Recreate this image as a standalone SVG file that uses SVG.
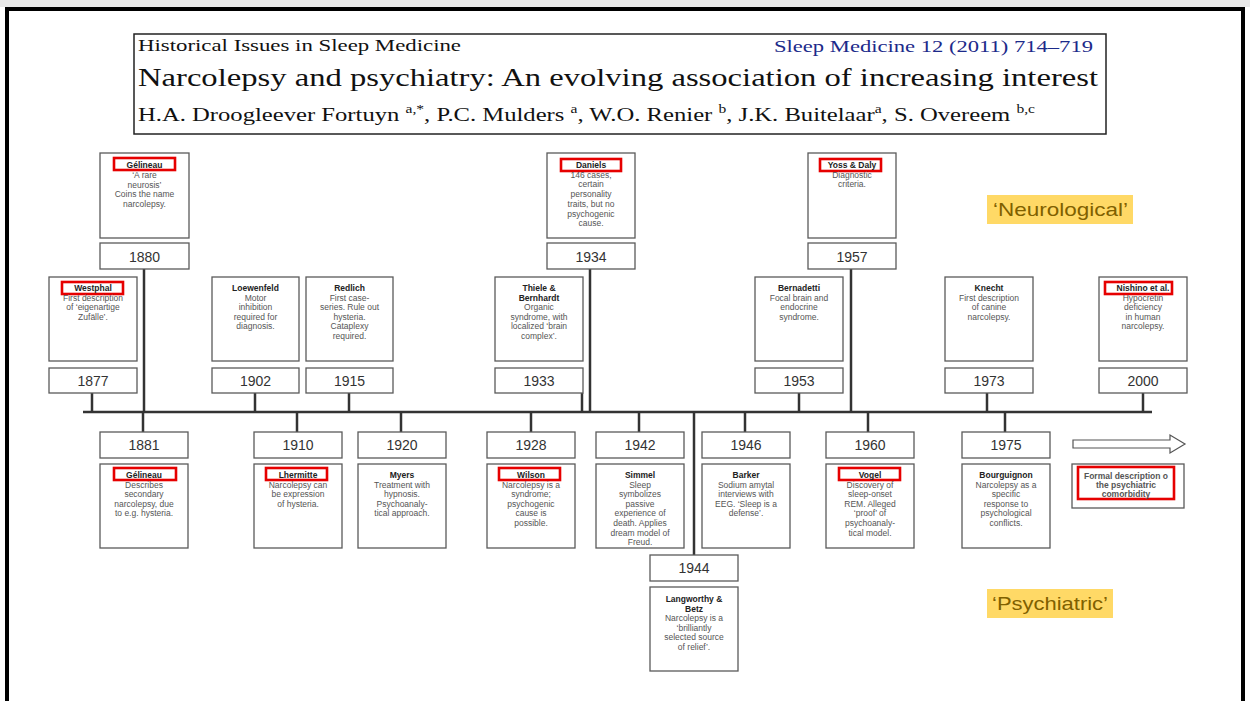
<svg xmlns="http://www.w3.org/2000/svg" width="1250" height="701" viewBox="0 0 1250 701">
<style>
.box{fill:#fff;stroke:#5a5a5a;stroke-width:1.3}
.yr{font-family:"Liberation Sans",Arial,sans-serif;font-size:14px;fill:#333;text-anchor:middle}
.d{font-family:"Liberation Sans",Arial,sans-serif;font-size:8.5px;fill:#555;text-anchor:middle}
.n{font-weight:bold;fill:#222}
.hl{fill:none;stroke:#e60000;stroke-width:2.6}
.ln{stroke:#333;stroke-width:2.5;fill:none}
.lab{fill:#ffd966}
.labt{font-family:"Liberation Sans",Arial,sans-serif;font-size:19px;fill:#7f6000}
.serif{font-family:"Liberation Serif","Times New Roman",serif;fill:#111}
</style>
<rect x="0" y="0" width="1250" height="701" fill="#fff"/>
<rect x="0" y="0" width="1250" height="7" fill="#e8e8e8"/>
<rect x="7" y="9" width="1236" height="730" fill="none" stroke="#000" stroke-width="4"/>

<g id="header">
<rect x="134" y="34" width="972" height="100" fill="#fff" stroke="#222" stroke-width="1.5"/>
<text class="serif" x="138" y="51" font-size="16" textLength="323" lengthAdjust="spacingAndGlyphs">Historical Issues in Sleep Medicine</text>
<text x="774" y="52" font-family="Liberation Serif,serif" font-size="17" fill="#1c2a8a" textLength="319" lengthAdjust="spacingAndGlyphs">Sleep Medicine 12 (2011) 714–719</text>
<text class="serif" x="138" y="86" font-size="25" textLength="960" lengthAdjust="spacingAndGlyphs">Narcolepsy and psychiatry: An evolving association of increasing interest</text>
<text class="serif" x="138" y="121" font-size="19" textLength="897" lengthAdjust="spacingAndGlyphs">H.A. Droogleever Fortuyn <tspan font-size="12" dy="-8">a,*</tspan><tspan dy="8">, P.C. Mulders </tspan><tspan font-size="12" dy="-8">a</tspan><tspan dy="8">, W.O. Renier </tspan><tspan font-size="12" dy="-8">b</tspan><tspan dy="8">, J.K. Buitelaar</tspan><tspan font-size="12" dy="-8">a</tspan><tspan dy="8">, S. Overeem </tspan><tspan font-size="12" dy="-8">b,c</tspan></text>
</g>

<g id="connectors">
<line class="ln" x1="83" y1="412" x2="1152" y2="412"/>
<line class="ln" x1="92" y1="393" x2="92" y2="412"/>
<line class="ln" x1="144" y1="269" x2="144" y2="412"/>
<line class="ln" x1="255" y1="393" x2="255" y2="412"/>
<line class="ln" x1="349" y1="393" x2="349" y2="412"/>
<line class="ln" x1="582" y1="393" x2="582" y2="412"/>
<line class="ln" x1="590" y1="269" x2="590" y2="412"/>
<line class="ln" x1="799" y1="393" x2="799" y2="412"/>
<line class="ln" x1="851" y1="269" x2="851" y2="412"/>
<line class="ln" x1="987" y1="393" x2="987" y2="412"/>
<line class="ln" x1="1143" y1="393" x2="1143" y2="412"/>
<line class="ln" x1="143" y1="412" x2="143" y2="432"/>
<line class="ln" x1="297" y1="412" x2="297" y2="432"/>
<line class="ln" x1="401" y1="412" x2="401" y2="432"/>
<line class="ln" x1="531" y1="412" x2="531" y2="432"/>
<line class="ln" x1="639" y1="412" x2="639" y2="432"/>
<line class="ln" x1="694" y1="412" x2="694" y2="555"/>
<line class="ln" x1="745" y1="412" x2="745" y2="432"/>
<line class="ln" x1="868" y1="412" x2="868" y2="432"/>
<line class="ln" x1="1005" y1="412" x2="1005" y2="432"/>
</g>

<g id="n1880">
<rect class="box" x="100" y="153" width="89" height="85"/>
<rect class="hl" x="114" y="158" width="61" height="12"/>
<text class="d"><tspan class="n" x="144.5" y="168">Gélineau</tspan><tspan x="144.5" y="178">‘A rare</tspan><tspan x="144.5" y="187.5">neurosis’</tspan><tspan x="144.5" y="197">Coins the name</tspan><tspan x="144.5" y="206.5">narcolepsy.</tspan></text>
<rect class="box" x="100" y="243" width="89" height="26"/>
<text class="yr" x="144.5" y="262">1880</text>
</g>

<g id="n1934">
<rect class="box" x="547" y="153" width="88" height="85"/>
<rect class="hl" x="561" y="159" width="60" height="12"/>
<text class="d"><tspan class="n" x="591" y="168">Daniels</tspan><tspan x="591" y="177.7">146 cases,</tspan><tspan x="591" y="187.4">certain</tspan><tspan x="591" y="197.1">personality</tspan><tspan x="591" y="206.8">traits, but no</tspan><tspan x="591" y="216.5">psychogenic</tspan><tspan x="591" y="226.2">cause.</tspan></text>
<rect class="box" x="547" y="243" width="88" height="26"/>
<text class="yr" x="591" y="262">1934</text>
</g>

<g id="n1957">
<rect class="box" x="808" y="153" width="88" height="85"/>
<rect class="hl" x="820" y="159" width="61" height="12"/>
<text class="d"><tspan class="n" x="852" y="168">Yoss &amp; Daly</tspan><tspan x="852" y="177.7">Diagnostic</tspan><tspan x="852" y="187.4">criteria.</tspan></text>
<rect class="box" x="808" y="243" width="88" height="26"/>
<text class="yr" x="852" y="262">1957</text>
</g>

<g id="n1877">
<rect class="box" x="49" y="277" width="88" height="84"/>
<rect class="hl" x="62" y="282" width="61" height="12"/>
<text class="d"><tspan class="n" x="93" y="291">Westphal</tspan><tspan x="93" y="300.5">First description</tspan><tspan x="93" y="310">of ‘eigenartige</tspan><tspan x="93" y="319.5">Zufälle’.</tspan></text>
<rect class="box" x="49" y="368" width="88" height="25"/>
<text class="yr" x="93" y="386">1877</text>
</g>

<g id="n1902">
<rect class="box" x="212" y="277" width="87" height="84"/>
<text class="d"><tspan class="n" x="255.5" y="291">Loewenfeld</tspan><tspan x="255.5" y="300.5">Motor</tspan><tspan x="255.5" y="310">inhibition</tspan><tspan x="255.5" y="319.5">required for</tspan><tspan x="255.5" y="329">diagnosis.</tspan></text>
<rect class="box" x="212" y="368" width="87" height="25"/>
<text class="yr" x="255.5" y="386">1902</text>
</g>

<g id="n1915">
<rect class="box" x="306" y="277" width="87" height="84"/>
<text class="d"><tspan class="n" x="349.5" y="291">Redlich</tspan><tspan x="349.5" y="300.5">First case-</tspan><tspan x="349.5" y="310">series. Rule out</tspan><tspan x="349.5" y="319.5">hysteria.</tspan><tspan x="349.5" y="329">Cataplexy</tspan><tspan x="349.5" y="338.5">required.</tspan></text>
<rect class="box" x="306" y="368" width="87" height="25"/>
<text class="yr" x="349.5" y="386">1915</text>
</g>

<g id="n1933">
<rect class="box" x="495" y="277" width="88" height="84"/>
<text class="d"><tspan class="n" x="539" y="291">Thiele &amp;</tspan><tspan class="n" x="539" y="300.5">Bernhardt</tspan><tspan x="539" y="310">Organic</tspan><tspan x="539" y="319.5">syndrome, with</tspan><tspan x="539" y="329">localized ‘brain</tspan><tspan x="539" y="338.5">complex’.</tspan></text>
<rect class="box" x="495" y="368" width="88" height="25"/>
<text class="yr" x="539" y="386">1933</text>
</g>

<g id="n1953">
<rect class="box" x="755" y="277" width="88" height="84"/>
<text class="d"><tspan class="n" x="799" y="291">Bernadetti</tspan><tspan x="799" y="300.5">Focal brain  and</tspan><tspan x="799" y="310">endocrine</tspan><tspan x="799" y="319.5">syndrome.</tspan></text>
<rect class="box" x="755" y="368" width="88" height="25"/>
<text class="yr" x="799" y="386">1953</text>
</g>

<g id="n1973">
<rect class="box" x="945" y="277" width="88" height="84"/>
<text class="d"><tspan class="n" x="989" y="291">Knecht</tspan><tspan x="989" y="300.5">First description</tspan><tspan x="989" y="310">of canine</tspan><tspan x="989" y="319.5">narcolepsy.</tspan></text>
<rect class="box" x="945" y="368" width="88" height="25"/>
<text class="yr" x="989" y="386">1973</text>
</g>

<g id="n2000">
<rect class="box" x="1099" y="277" width="88" height="84"/>
<rect class="hl" x="1105" y="282" width="67" height="12"/>
<text class="d"><tspan class="n" x="1143" y="291">Nishino et al.</tspan><tspan x="1143" y="300.5">Hypocretin</tspan><tspan x="1143" y="310">deficiency</tspan><tspan x="1143" y="319.5">in human</tspan><tspan x="1143" y="329">narcolepsy.</tspan></text>
<rect class="box" x="1099" y="368" width="88" height="25"/>
<text class="yr" x="1143" y="386">2000</text>
</g>

<g id="n1881">
<rect class="box" x="100" y="432" width="88" height="26"/>
<text class="yr" x="144" y="450">1881</text>
<rect class="box" x="100" y="464" width="88" height="84"/>
<rect class="hl" x="114" y="468" width="62" height="12"/>
<text class="d"><tspan class="n" x="144" y="478">Gélineau</tspan><tspan x="144" y="487.6">Describes</tspan><tspan x="144" y="497.2">secondary</tspan><tspan x="144" y="506.8">narcolepsy, due</tspan><tspan x="144" y="516.4">to e.g. hysteria.</tspan></text>
</g>

<g id="n1910">
<rect class="box" x="254" y="432" width="88" height="26"/>
<text class="yr" x="298" y="450">1910</text>
<rect class="box" x="254" y="464" width="88" height="84"/>
<rect class="hl" x="266" y="468" width="61" height="12"/>
<text class="d"><tspan class="n" x="298" y="478">Lhermitte</tspan><tspan x="298" y="487.6">Narcolepsy can</tspan><tspan x="298" y="497.2">be expression</tspan><tspan x="298" y="506.8">of hysteria.</tspan></text>
</g>

<g id="n1920">
<rect class="box" x="358" y="432" width="88" height="26"/>
<text class="yr" x="402" y="450">1920</text>
<rect class="box" x="358" y="464" width="88" height="84"/>
<text class="d"><tspan class="n" x="402" y="478">Myers</tspan><tspan x="402" y="487.6">Treatment with</tspan><tspan x="402" y="497.2">hypnosis.</tspan><tspan x="402" y="506.8">Psychoanaly-</tspan><tspan x="402" y="516.4">tical approach.</tspan></text>
</g>

<g id="n1928">
<rect class="box" x="487" y="432" width="88" height="26"/>
<text class="yr" x="531" y="450">1928</text>
<rect class="box" x="487" y="464" width="88" height="84"/>
<rect class="hl" x="499" y="468" width="61" height="12"/>
<text class="d"><tspan class="n" x="531" y="478">Wilson</tspan><tspan x="531" y="487.6">Narcolepsy is a</tspan><tspan x="531" y="497.2">syndrome;</tspan><tspan x="531" y="506.8">psychogenic</tspan><tspan x="531" y="516.4">cause is</tspan><tspan x="531" y="526">possible.</tspan></text>
</g>

<g id="n1942">
<rect class="box" x="596" y="432" width="88" height="26"/>
<text class="yr" x="640" y="450">1942</text>
<rect class="box" x="596" y="464" width="88" height="84"/>
<text class="d"><tspan class="n" x="640" y="478">Simmel</tspan><tspan x="640" y="487.6">Sleep</tspan><tspan x="640" y="497.2">symbolizes</tspan><tspan x="640" y="506.8">passive</tspan><tspan x="640" y="516.4">experience of</tspan><tspan x="640" y="526">death. Applies</tspan><tspan x="640" y="535.6">dream model of</tspan><tspan x="640" y="545.2">Freud.</tspan></text>
</g>

<g id="n1944">
<rect class="box" x="650" y="555" width="88" height="26"/>
<text class="yr" x="694" y="573">1944</text>
<rect class="box" x="650" y="587" width="88" height="84"/>
<text class="d"><tspan class="n" x="694" y="602">Langworthy &amp;</tspan><tspan class="n" x="694" y="611.6">Betz</tspan><tspan x="694" y="621.2">Narcolepsy is a</tspan><tspan x="694" y="630.8">‘brilliantly</tspan><tspan x="694" y="640.4">selected source</tspan><tspan x="694" y="650">of relief’.</tspan></text>
</g>

<g id="n1946">
<rect class="box" x="702" y="432" width="88" height="26"/>
<text class="yr" x="746" y="450">1946</text>
<rect class="box" x="702" y="464" width="88" height="84"/>
<text class="d"><tspan class="n" x="746" y="478">Barker</tspan><tspan x="746" y="487.6">Sodium amytal</tspan><tspan x="746" y="497.2">interviews with</tspan><tspan x="746" y="506.8">EEG. ‘Sleep is a</tspan><tspan x="746" y="516.4">defense’.</tspan></text>
</g>

<g id="n1960">
<rect class="box" x="826" y="432" width="88" height="26"/>
<text class="yr" x="870" y="450">1960</text>
<rect class="box" x="826" y="464" width="88" height="84"/>
<rect class="hl" x="839" y="468" width="61" height="12"/>
<text class="d"><tspan class="n" x="870" y="478">Vogel</tspan><tspan x="870" y="487.6">Discovery of</tspan><tspan x="870" y="497.2">sleep-onset</tspan><tspan x="870" y="506.8">REM. Alleged</tspan><tspan x="870" y="516.4">‘proof’ of</tspan><tspan x="870" y="526">psychoanaly-</tspan><tspan x="870" y="535.6">tical model.</tspan></text>
</g>

<g id="n1975">
<rect class="box" x="962" y="432" width="88" height="26"/>
<text class="yr" x="1006" y="450">1975</text>
<rect class="box" x="962" y="464" width="88" height="84"/>
<text class="d"><tspan class="n" x="1006" y="478">Bourguignon</tspan><tspan x="1006" y="487.6">Narcolepsy as a</tspan><tspan x="1006" y="497.2">specific</tspan><tspan x="1006" y="506.8">response to</tspan><tspan x="1006" y="516.4">psychological</tspan><tspan x="1006" y="526">conflicts.</tspan></text>
</g>

<g id="future">
<polygon points="1073,440 1170,440 1170,435 1185,444 1170,453 1170,448 1073,448" fill="#fff" stroke="#555" stroke-width="1.2"/>
<rect class="box" x="1072" y="464" width="112" height="44"/>
<rect class="hl" x="1078" y="467" width="96" height="32"/>
<text class="d" fill="#222" font-weight="bold"><tspan x="1126" y="479">Formal description o</tspan><tspan x="1126" y="488">the psychiatric</tspan><tspan x="1126" y="497">comorbidity</tspan></text>
</g>

<g id="label-neuro">
<rect class="lab" x="987" y="195" width="146" height="29"/>
<text class="labt" x="993" y="216" textLength="135" lengthAdjust="spacingAndGlyphs">‘Neurological’</text>
</g>
<g id="label-psych">
<rect class="lab" x="987" y="589" width="126" height="29"/>
<text class="labt" x="992" y="610" textLength="116" lengthAdjust="spacingAndGlyphs">‘Psychiatric’</text>
</g>
</svg>
